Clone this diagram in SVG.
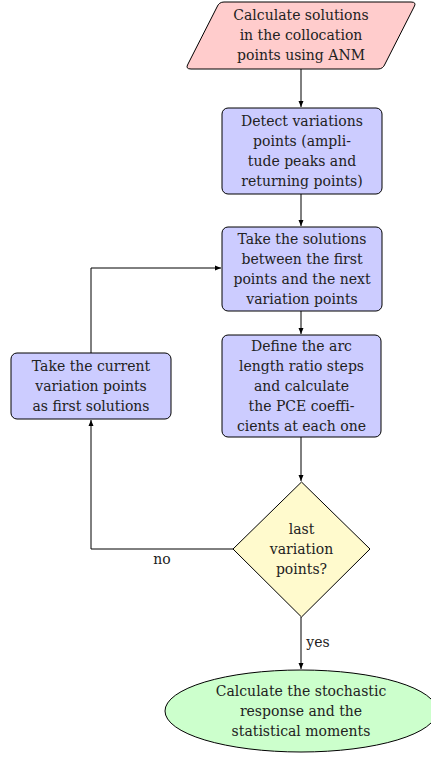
<svg xmlns="http://www.w3.org/2000/svg" width="431" height="760" viewBox="0 0 431 760">
<defs>
<marker id="arr" markerWidth="8" markerHeight="8" refX="6" refY="3" orient="auto" markerUnits="userSpaceOnUse">
<path d="M0,0.5 L6,3 L0,5.5 Z" fill="#000"/>
</marker>
<style>
text{font-family:'DejaVu Serif',serif;font-size:14px;fill:#222;text-anchor:middle}
.n{stroke:#000;stroke-width:1}
.c{fill:none;stroke:#000;stroke-width:1}
</style>
</defs>
<rect width="431" height="760" fill="#fff"/>
<g id="connectors">
<path class="c" d="M301,69 L301,107" marker-end="url(#arr)"/>
<path class="c" d="M301,194 L301,226" marker-end="url(#arr)"/>
<path class="c" d="M301,311 L301,334" marker-end="url(#arr)"/>
<path class="c" d="M301,437 L301,481" marker-end="url(#arr)"/>
<path class="c" d="M301,617 L301,669" marker-end="url(#arr)"/>
<path class="c" d="M233,549 L91,549 L91,420" marker-end="url(#arr)"/>
<path class="c" d="M91,353 L91,268 L221,268" marker-end="url(#arr)"/>
<text x="162" y="564">no</text>
<text x="318" y="647">yes</text>
</g>
<g id="start">
<path class="n" fill="#ffcccc" d="M224,2 L411,2 Q417,2 414,7 L385,64 Q383,69 378,69 L191,69 Q185,69 188,64 L217,7 Q219,2 224,2 Z"/>
<text x="301" y="20">Calculate solutions</text>
<text x="301" y="40">in the collocation</text>
<text x="301" y="60">points using ANM</text>
</g>
<g id="detect">
<rect class="n" fill="#ccccff" x="222" y="108" width="160" height="86" rx="6"/>
<text x="302" y="126">Detect variations</text>
<text x="302" y="146">points (ampli-</text>
<text x="302" y="166">tude peaks and</text>
<text x="302" y="186">returning points)</text>
</g>
<g id="take">
<rect class="n" fill="#ccccff" x="222" y="227" width="160" height="84" rx="6"/>
<text x="302" y="244">Take the solutions</text>
<text x="302" y="264">between the first</text>
<text x="302" y="284">points and the next</text>
<text x="302" y="304">variation points</text>
</g>
<g id="define">
<rect class="n" fill="#ccccff" x="222" y="335" width="159" height="102" rx="6"/>
<text x="301.5" y="351">Define the arc</text>
<text x="301.5" y="371">length ratio steps</text>
<text x="301.5" y="391">and calculate</text>
<text x="301.5" y="411">the PCE coeffi-</text>
<text x="301.5" y="431">cients at each one</text>
</g>
<g id="current">
<rect class="n" fill="#ccccff" x="11" y="353" width="160" height="66" rx="6"/>
<text x="91" y="371">Take the current</text>
<text x="91" y="391">variation points</text>
<text x="91" y="411">as first solutions</text>
</g>
<g id="decision">
<path class="n" fill="#fffacd" d="M301.5,482 L370,549 L301.5,617 L233,549 Z"/>
<text x="301.5" y="534">last</text>
<text x="301.5" y="554">variation</text>
<text x="301.5" y="574">points?</text>
</g>
<g id="end">
<ellipse class="n" fill="#ccffcc" cx="301" cy="711" rx="136" ry="41"/>
<text x="301" y="696">Calculate the stochastic</text>
<text x="301" y="716">response and the</text>
<text x="301" y="736">statistical moments</text>
</g>
</svg>
